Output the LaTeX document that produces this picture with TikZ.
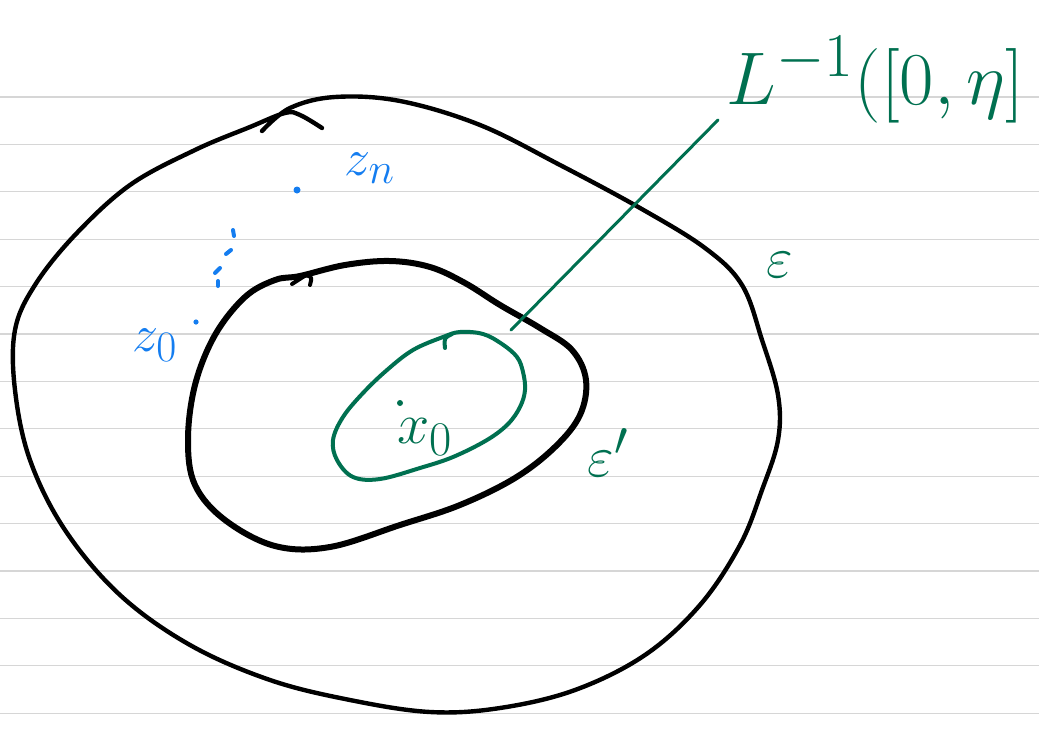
\documentclass[tikz,border=0pt]{standalone}
\usepackage{amsmath}
\definecolor{ink}{RGB}{0,112,80}
\definecolor{bl}{RGB}{20,125,240}
\definecolor{rule}{RGB}{214,214,214}
\tikzset{
  blackpen/.style={black, line width=4pt, line cap=round, line join=round},
  greenpen/.style={ink, line width=4pt, line cap=round, line join=round},
  bluepen/.style={bl, line width=4pt, line cap=round},
  glabel/.style={ink, inner sep=0pt, font=\Huge, scale=2.33},
  blabel/.style={bl, inner sep=0pt, font=\Huge, scale=2.1},
}
\begin{document}
\begin{tikzpicture}[x=1pt,y=-1pt]
\useasboundingbox (0,0) rectangle (1039,731);
% ruled paper
\foreach \k in {0,...,13}{
  \draw[rule, line width=1.2pt] (0,{97+47.4*\k}) -- (1039,{97+47.4*\k});
}
% outer region epsilon
\draw[blackpen, line width=4.4pt] plot[smooth, tension=0.6] coordinates {(262,131) (290,108) (335,97) (400,101) (480,125) (560,165) (640,208) (705,248) (742,285) (762,340) (778,395) (778,440) (762,490) (740,545) (700,605) (645,655) (575,690) (500,708) (430,712) (350,700) (270,680) (190,645) (120,595) (65,530) (30,460) (15,390) (15,330) (35,285) (75,235) (130,185) (195,150) (250,127) (285,113) (300,115) (322,128)};
% inner region epsilon'
\draw[blackpen, line width=6pt] plot[smooth cycle, tension=0.6] coordinates {(300,276) (345,265) (390,261) (430,267) (465,283) (500,305) (540,328) (572,350) (586,380) (580,415) (555,447) (515,478) (460,505) (400,525) (330,547) (275,546) (225,520) (195,485) (188,440) (195,385) (215,335) (245,297) (275,280)};
\draw[blackpen, line width=4pt] (292,284) -- (306,275) .. controls (312,277) .. (310,285);
% green sublevel set
\draw[greenpen] plot[smooth cycle, tension=0.6] coordinates {(460,332) (483,334) (502,344) (517,357) (523,372) (525,390) (520,407) (508,424) (487,440) (453,457) (420,468) (380,479) (353,477) (337,460) (333,440) (343,417) (363,393) (387,370) (413,350) (443,337)};
\draw[greenpen] (445,348) .. controls (444,338) .. (452,334);
\fill[ink] (400,403) circle (3pt);
\coordinate (blob) at (511,330);
\node[glabel, scale=3/2.33*1, anchor=base west] (L) at (726,104) {$L^{-1}([0,\eta]$};
\coordinate (Ltip) at (718,120);
\draw[greenpen, line width=3pt] (blob) -- (Ltip);
\node[glabel] (x0) at (425,437) {$x_0$};
\node[glabel] (epsi) at (780,265) {$\varepsilon$};
\node[glabel] (epsp) at (608,453) {$\varepsilon'$};
% blue points
\fill[bl] (297,190) circle (3.5pt);
\fill[bl] (196,322) circle (2.6pt);
\draw[bluepen] (233,230) -- (234,236);
\draw[bluepen] (226,254) -- (231,250);
\draw[bluepen] (215,273) -- (220,268);
\draw[bluepen] (218,281) -- (218,286);
\node[blabel] (zn) at (370,168) {$z_n$};
\node[blabel] (z0) at (155,345) {$z_0$};
\end{tikzpicture}
\end{document}
